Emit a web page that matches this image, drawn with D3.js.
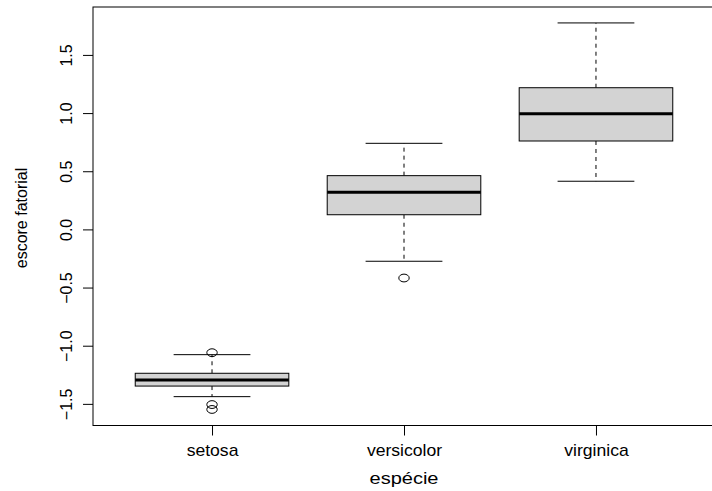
<!DOCTYPE html>
<html>
<head>
<meta charset="utf-8">
<script src="https://cdn.jsdelivr.net/npm/d3@7"></script>
<style>
  html, body { margin: 0; padding: 0; background: #fff; }
  svg { display: block; }
  text { font-family: "Liberation Sans", Arial, Helvetica, sans-serif; fill: #000; }
</style>
</head>
<body>
<svg id="chart" width="712" height="491"></svg>
<script>
// ---- data ----
const categories = ["setosa", "versicolor", "virginica"];
const lowerWhisker = [-1.438, -0.274, 0.414];
const q1 = [-1.347, 0.126, 0.760];
const median = [-1.295, 0.319, 0.995];
const q3 = [-1.237, 0.462, 1.218];
const upperWhisker = [-1.077, 0.740, 1.775];
const outliers = [[-1.060, -1.506, -1.548], [-0.418], []];
const yTicks = [-1.5, -1.0, -0.5, 0.0, 0.5, 1.0, 1.5];
const yTickLabels = ["\u22121.5", "\u22121.0", "\u22120.5", "0.0", "0.5", "1.0", "1.5"];
const xTitle = "espécie";
const yTitle = "escore fatorial";

(function () {
const boxes = categories.map((c, i) => ({
  cat: c, pos: i + 1,
  lo: lowerWhisker[i], q1: q1[i], med: median[i], q3: q3[i], hi: upperWhisker[i],
  out: outliers[i]
}));

const svg = d3.select("#chart");

// plot region
const pLeft = 93, pRight = 715, pTop = 7, pBottom = 425.5;
const x = d3.scaleLinear().domain([0.38, 3.62]).range([pLeft, pRight]);
const y = d3.scaleLinear().domain([-1.686, 1.912]).range([pBottom, pTop]);

const unit = x(1) - x(0);
const halfBox = 0.4 * unit;
const halfStaple = 0.2 * unit;

const g = svg.append("g");

boxes.forEach(b => {
  const cx = x(b.pos);
  g.append("line").attr("x1", cx).attr("x2", cx)
    .attr("y1", y(b.q3)).attr("y2", y(b.hi))
    .attr("stroke", "#000").attr("stroke-width", 1).attr("stroke-dasharray", "4,4");
  g.append("line").attr("x1", cx).attr("x2", cx)
    .attr("y1", y(b.q1)).attr("y2", y(b.lo))
    .attr("stroke", "#000").attr("stroke-width", 1).attr("stroke-dasharray", "4,4");
  [b.hi, b.lo].forEach(v => {
    g.append("line").attr("x1", cx - halfStaple).attr("x2", cx + halfStaple)
      .attr("y1", y(v)).attr("y2", y(v))
      .attr("stroke", "#000").attr("stroke-width", 1);
  });
  g.append("rect").attr("x", cx - halfBox).attr("width", 2 * halfBox)
    .attr("y", y(b.q3)).attr("height", y(b.q1) - y(b.q3))
    .attr("fill", "#d3d3d3").attr("stroke", "#000").attr("stroke-width", 1);
  g.append("line").attr("x1", cx - halfBox).attr("x2", cx + halfBox)
    .attr("y1", y(b.med)).attr("y2", y(b.med))
    .attr("stroke", "#000").attr("stroke-width", 3);
  b.out.forEach(v => {
    g.append("ellipse").attr("cx", cx).attr("cy", y(v))
      .attr("rx", 5.2).attr("ry", 3.9)
      .attr("fill", "none").attr("stroke", "#000").attr("stroke-width", 1);
  });
});

svg.append("rect").attr("x", pLeft).attr("y", pTop)
  .attr("width", pRight - pLeft).attr("height", pBottom - pTop)
  .attr("fill", "none").attr("stroke", "#000").attr("stroke-width", 1);

const yAxis = d3.axisLeft(y).tickValues(yTicks).tickSize(10)
  .tickFormat((d, i) => yTickLabels[i]);
const ya = svg.append("g").attr("transform", `translate(${pLeft},0)`).call(yAxis);
ya.select(".domain").remove();
ya.selectAll(".tick line").attr("stroke", "#000");
ya.selectAll(".tick text")
  .attr("x", 0).attr("y", 0).attr("dy", null)
  .attr("transform", "translate(-21,0) rotate(-90)")
  .attr("text-anchor", "middle")
  .style("font-size", "16px")
  .style("font-family", "'Liberation Sans', Arial, sans-serif")
  .attr("fill", "#000");

const xAxis = d3.axisBottom(x).tickValues([1, 2, 3]).tickSize(10)
  .tickFormat((d, i) => categories[i]);
const xa = svg.append("g").attr("transform", `translate(0,${pBottom})`).call(xAxis);
xa.select(".domain").remove();
xa.selectAll(".tick line").attr("stroke", "#000");
xa.selectAll(".tick text")
  .attr("y", 0).attr("dy", null)
  .attr("transform", "translate(0,30.2) scale(1.1,1)")
  .attr("text-anchor", "middle")
  .style("font-size", "16px")
  .style("font-family", "'Liberation Sans', Arial, sans-serif")
  .attr("fill", "#000");

svg.append("text")
  .attr("transform", `translate(${x(2)},484) scale(1.25,1)`)
  .attr("text-anchor", "middle")
  .style("font-size", "16px")
  .text(xTitle);

svg.append("text")
  .attr("transform", "translate(27,218) rotate(-90)")
  .attr("text-anchor", "middle")
  .style("font-size", "16px")
  .text(yTitle);
})();
</script>
</body>
</html>
